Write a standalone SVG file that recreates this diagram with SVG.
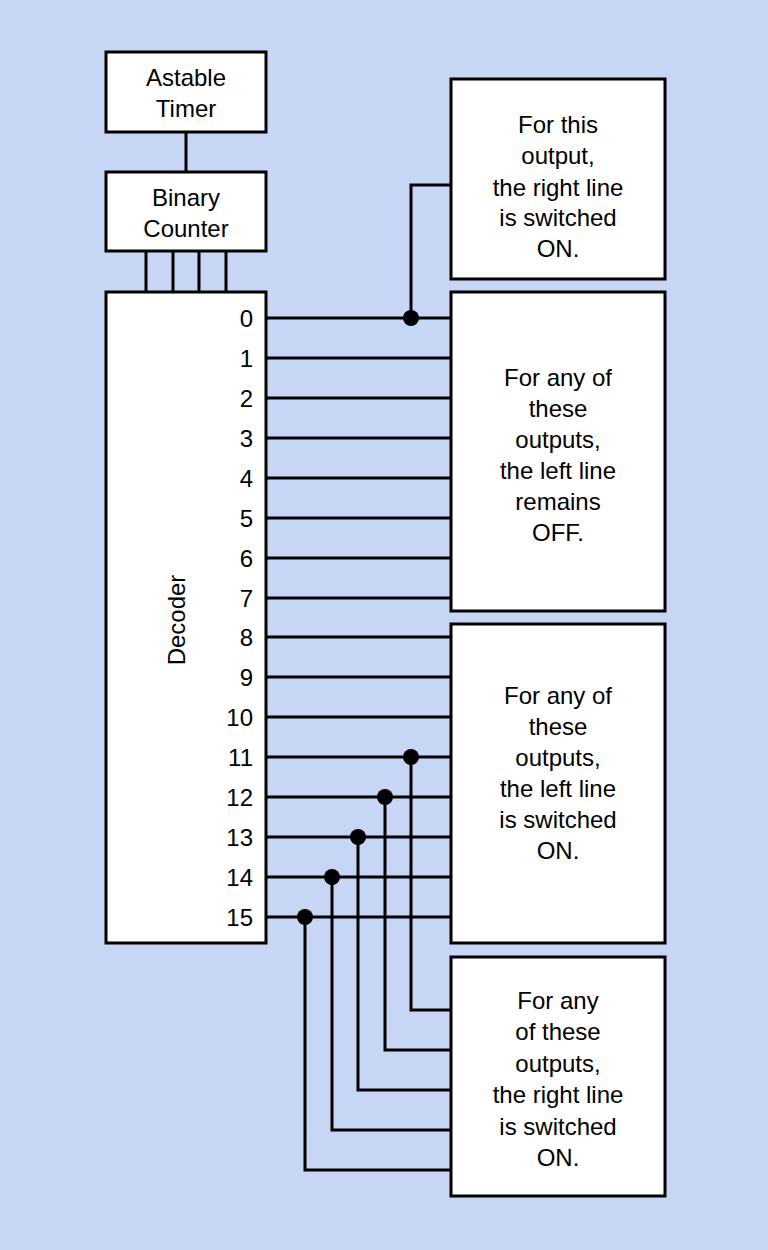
<svg xmlns="http://www.w3.org/2000/svg" width="768" height="1250" viewBox="0 0 768 1250">
<style>
.b{fill:#fff;stroke:#000;stroke-width:3}
.w{stroke:#000;stroke-width:3;fill:none}
text{font-family:"Liberation Sans",Arial,sans-serif;font-size:24px;fill:#000}
.c{text-anchor:middle}
.n{text-anchor:end}
</style>
<rect width="768" height="1250" fill="#c6d6f4"/>
<g id="connectors" class="w">
<path d="M186 132V172M146 251V292M173 251V292M199 251V292M226 251V292"/>
<path d="M266 318H451M266 358H451M266 398H451M266 438H451M266 478H451M266 518H451M266 558H451M266 598H451M266 637H451M266 677H451M266 717H451M266 757H451M266 797H451M266 837H451M266 877H451M266 917H451"/>
<path d="M411 318V185H451M411 757V1010H451M385 797V1050H451M358 837V1090H451M332 877V1130H451M305 917V1170H451"/>
<g fill="#000" stroke="none"><circle cx="411" cy="318" r="8"/><circle cx="411" cy="757" r="8"/><circle cx="385" cy="797" r="8"/><circle cx="358" cy="837" r="8"/><circle cx="332" cy="877" r="8"/><circle cx="305" cy="917" r="8"/></g>
</g>
<g id="timer"><rect class="b" x="106" y="52" width="160" height="80"/><text class="c" x="186" y="86">Astable</text><text class="c" x="186" y="117">Timer</text></g>
<g id="counter"><rect class="b" x="106" y="172" width="160" height="79"/><text class="c" x="186" y="206">Binary</text><text class="c" x="186" y="237">Counter</text></g>
<g id="decoder"><rect class="b" x="106" y="292" width="160" height="651"/>
<text class="c" transform="translate(185 620) rotate(-90)">Decoder</text>
<text class="n" x="253" y="327">0</text><text class="n" x="253" y="367">1</text><text class="n" x="253" y="407">2</text><text class="n" x="253" y="447">3</text><text class="n" x="253" y="487">4</text><text class="n" x="253" y="527">5</text><text class="n" x="253" y="567">6</text><text class="n" x="253" y="607">7</text><text class="n" x="253" y="646">8</text><text class="n" x="253" y="686">9</text><text class="n" x="253" y="726">10</text><text class="n" x="253" y="766">11</text><text class="n" x="253" y="806">12</text><text class="n" x="253" y="846">13</text><text class="n" x="253" y="886">14</text><text class="n" x="253" y="926">15</text>
</g>
<g id="box1"><rect class="b" x="451" y="79" width="214" height="200"/>
<text class="c" x="558" y="133">For this</text><text class="c" x="558" y="164">output,</text><text class="c" x="558" y="196">the right line</text><text class="c" x="558" y="226">is switched</text><text class="c" x="558" y="257">ON.</text></g>
<g id="box2"><rect class="b" x="451" y="292" width="214" height="319"/>
<text class="c" x="558" y="386">For any of</text><text class="c" x="558" y="417">these</text><text class="c" x="558" y="448">outputs,</text><text class="c" x="558" y="479">the left line</text><text class="c" x="558" y="510">remains</text><text class="c" x="558" y="541">OFF.</text></g>
<g id="box3"><rect class="b" x="451" y="624" width="214" height="319"/>
<text class="c" x="558" y="704">For any of</text><text class="c" x="558" y="735">these</text><text class="c" x="558" y="766">outputs,</text><text class="c" x="558" y="797">the left line</text><text class="c" x="558" y="828">is switched</text><text class="c" x="558" y="859">ON.</text></g>
<g id="box4"><rect class="b" x="451" y="957" width="214" height="239"/>
<text class="c" x="558" y="1009">For any</text><text class="c" x="558" y="1040">of these</text><text class="c" x="558" y="1072">outputs,</text><text class="c" x="558" y="1103">the right line</text><text class="c" x="558" y="1135">is switched</text><text class="c" x="558" y="1166">ON.</text></g>
</svg>
